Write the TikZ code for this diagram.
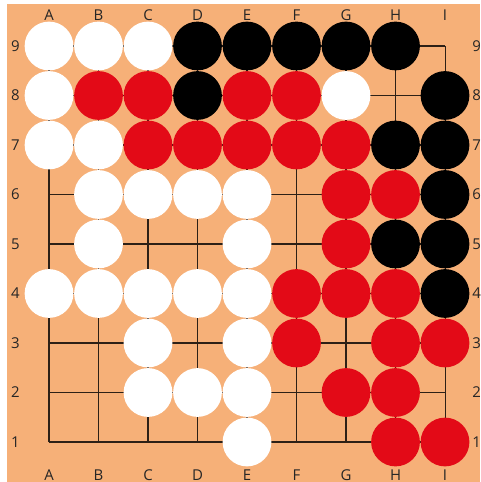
\documentclass[tikz,border=0pt]{standalone}
\usepackage{fontspec}
\setmainfont{Open Sans}
\usepackage{tikz}
\definecolor{boardOrange}{RGB}{246,176,120}
\definecolor{stoneRed}{RGB}{227,10,23}
\definecolor{lineDark}{RGB}{45,32,22}

\begin{document}
\begin{tikzpicture}[
    gridLine/.style={draw=lineDark, line width=0.6pt},
    stone/.style={circle, minimum size=0.985cm, inner sep=0pt},
    whiteStone/.style={stone, fill=white},
    blackStone/.style={stone, fill=black},
    redStone/.style={stone, fill=stoneRed},
    coordLabel/.style={inner sep=0pt, text=black!85, font=\fontsize{8.6}{10}\selectfont}
]
    \useasboundingbox (-0.99,-0.808) rectangle (8.707,8.929);
    \fill[boardOrange] (-0.848,-0.808) rectangle (8.707,8.848);

    % board lines
    \foreach \i in {0,...,8} {
        \draw[gridLine] (\i,0) -- (\i,8);
        \draw[gridLine] (0,\i) -- (8,\i);
    }

    % coordinates round the board
    \foreach \l [count=\i from 0] in {A,B,C,D,E,F,G,H,I} {
        \node[coordLabel] (top-\l) at (\i,8.63) {\l};
        \node[coordLabel] (bottom-\l) at (\i,-0.66) {\l};
    }
    \foreach \n [count=\i from 0] in {1,...,9} {
        \node[coordLabel] (left-\n) at (-0.68,\i) {\n};
        \node[coordLabel] (right-\n) at (8.64,\i) {\n};
    }

    % stones
    \foreach \c/\r in {0/8,1/8,2/8,0/7,6/7,0/6,1/6,1/5,2/5,3/5,4/5,1/4,4/4,
                       0/3,1/3,2/3,3/3,4/3,2/2,4/2,2/1,3/1,4/1,4/0}
        \node[whiteStone] (w-\c-\r) at (\c,\r) {};
    \foreach \c/\r in {3/8,4/8,5/8,6/8,7/8,3/7,8/7,7/6,8/6,8/5,7/4,8/4,8/3}
        \node[blackStone] (b-\c-\r) at (\c,\r) {};
    \foreach \c/\r in {1/7,2/7,4/7,5/7,2/6,3/6,4/6,5/6,6/6,6/5,7/5,6/4,
                       5/3,6/3,7/3,5/2,7/2,8/2,6/1,7/1,7/0,8/0}
        \node[redStone] (r-\c-\r) at (\c,\r) {};
\end{tikzpicture}
\end{document}
